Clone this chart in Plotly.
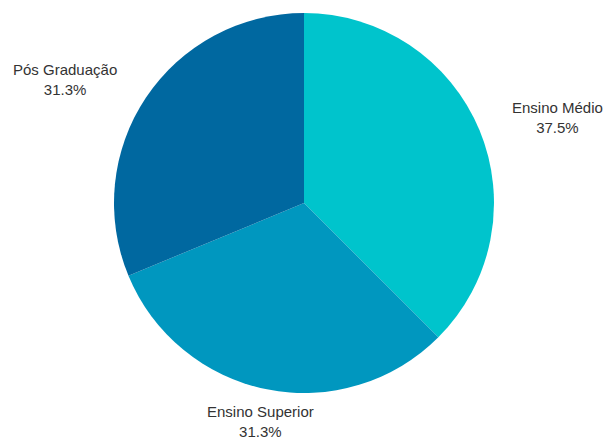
import math
import plotly.graph_objects as go

labels = ["Ensino Médio", "Ensino Superior", "Pós Graduação"]
values = [6, 5, 5]
colors = ["#00C4CC", "#0097BF", "#0068A0"]

W, H = 607, 439
CX, CY, R = 304, 203, 190      # pie centre / radius in pixels
LABEL_R = 223                  # radius where labels are anchored

fig = go.Figure(go.Pie(
    labels=labels,
    values=values,
    sort=False,
    direction="clockwise",
    rotation=0,
    marker=dict(colors=colors, line=dict(width=0)),
    textinfo="none",
    showlegend=False,
    hoverinfo="label+percent",
    domain=dict(x=[(CX - R) / W, (CX + R) / W],
                y=[1 - (CY + R) / H, 1 - (CY - R) / H]),
))

total = sum(values)
cum = 0
annotations = []
for lab, v in zip(labels, values):
    mid = (cum + v / 2) / total * 2 * math.pi
    cum += v
    s, c = math.sin(mid), math.cos(mid)
    px = CX + LABEL_R * s
    py = CY - LABEL_R * c
    if s > 0.5:
        xa = "left"
    elif s < -0.5:
        xa = "right"
    else:
        xa = "center"
    pct = math.floor(v / total * 1000 + 0.5) / 10
    annotations.append(dict(
        x=px / W, y=1 - py / H, xref="paper", yref="paper",
        text=f"{lab}<br>{pct:.1f}%",
        showarrow=False, xanchor=xa, yanchor="middle", align="center",
        font=dict(family="Liberation Sans, Arial, sans-serif", size=15, color="#333333"),
    ))

fig.update_layout(
    width=W, height=H,
    margin=dict(l=0, r=0, t=0, b=0),
    paper_bgcolor="white",
    plot_bgcolor="white",
    annotations=annotations,
)
fig.write_html("out.html")
